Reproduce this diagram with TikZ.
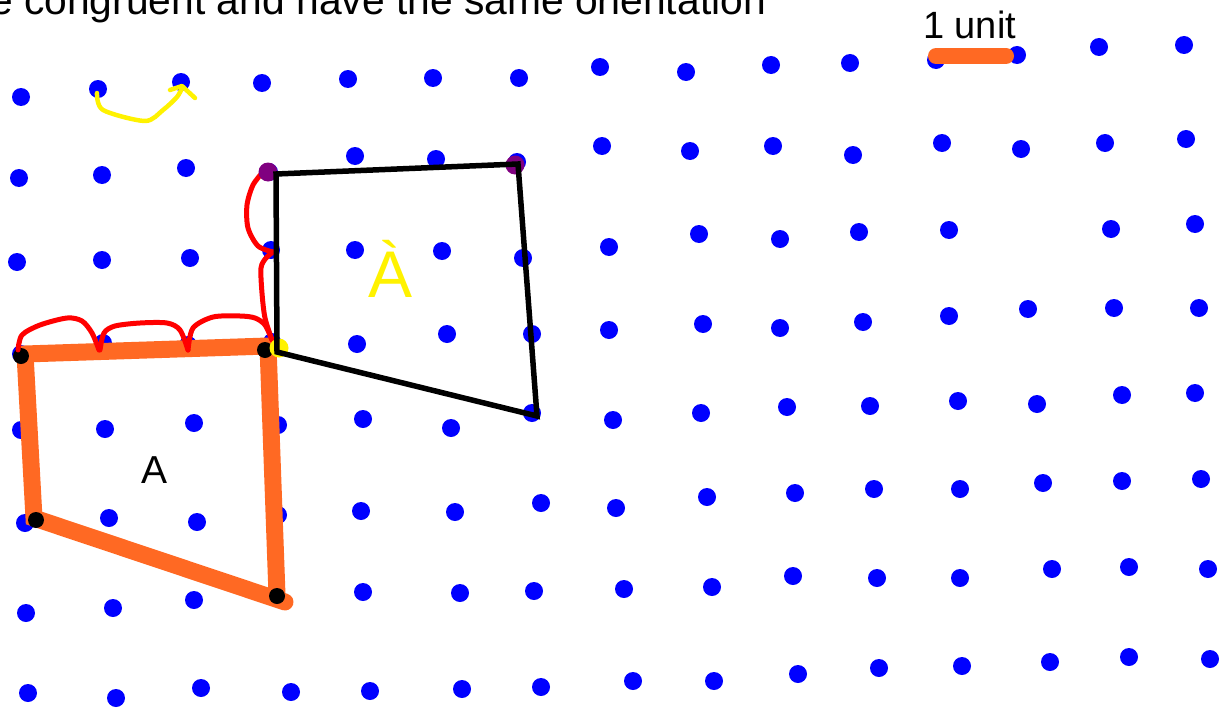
\documentclass[tikz,border=0pt]{standalone}
\usepackage{fontspec}
\setmainfont{Liberation Sans}
\definecolor{dotblue}{RGB}{0,0,255}
\definecolor{markorange}{RGB}{255,105,35}
\definecolor{markpurple}{RGB}{128,0,128}
\tikzset{
griddot/.style={fill=dotblue},
side A/.style={draw=markorange,line width=17pt,line join=miter,line cap=round},
side B/.style={draw=black,line width=5.5pt,line join=miter,line cap=round},
count arc/.style={draw=red,line width=5pt,line cap=round,line join=round},
pen/.style={draw=yellow,line width=4.5pt,line cap=round,line join=round},
corner/.style={fill=black},
}
\begin{document}
\begin{tikzpicture}[x=1pt,y=-1pt]
\useasboundingbox (0,0) rectangle (1222,709);
% dot paper, row by row
\foreach \x/\y in {21/97,98/89,181/82,262/83,348/79,433/78,519/78,600/67,686/72,771/65,850/63,936/60,1017/55,1099/47,1184/45,
19/178,102/175,186/168,269/172,355/156,436/159,517/162,602/146,690/151,773/146,853/155,942/143,1021/149,1105/143,1186/139,
17/262,102/260,190/258,271/250,355/250,442/251,523/258,609/247,699/234,780/239,859/232,949/230,1111/229,1195/224,
21/354,103/343,188/345,272/342,357/344,447/334,532/334,609/330,703/324,780/328,863/322,949/316,1028/309,1114/308,1199/308,
21/430,105/429,194/423,278/425,363/419,451/428,532/413,613/420,701/413,787/407,870/406,958/401,1037/404,1122/395,1195/393,
25/523,109/518,197/522,278/515,361/511,455/512,541/503,616/508,707/497,795/493,874/489,960/489,1043/483,1122/481,1201/479,
26/613,113/608,194/600,277/597,363/592,460/593,534/591,624/589,712/587,793/576,877/578,960/578,1052/569,1129/567,1208/569,
28/693,116/698,201/688,291/692,370/691,462/689,541/687,633/681,714/681,798/674,879/668,962/666,1050/662,1129/657,1210/659}
\fill[griddot] (\x,\y) circle[radius=9pt];

% heading, cut off at the top
\node[anchor=base west,inner sep=0pt,font=\fontsize{40.8}{48}\selectfont] (heading) at (-10,15) {e congruent and have the same orientation};

% scale bar
\coordinate (u-1) at (936,56);
\coordinate (u-2) at (1006,56);
\draw[draw=markorange,line width=16pt,line cap=round] (u-1) -- (u-2);
\node[anchor=base west,inner sep=0pt,font=\fontsize{38}{44}\selectfont] (unit) at (923,38) {1 unit};

% yellow arrow
\draw[pen] plot[smooth] coordinates {(97,93) (103,110) (145,121) (163,110) (177,97) (182,88)};
\draw[pen] (170,90) -- (182,86) -- (195,98);

% figure A
\coordinate (a-1) at (25,354);
\coordinate (a-2) at (268,346);
\coordinate (a-3) at (277,595);
\coordinate (a-4) at (34,518);
\coordinate (a-5) at (285,602);
\draw[side A] (a-5) -- (a-4) -- (a-1) -- (a-2) -- (a-3);
\foreach \x/\y in {21/356,265/350,277/596,36/520}
\fill[corner] (\x,\y) circle[radius=8pt];
\node[anchor=base,inner sep=0pt,font=\fontsize{39}{46}\selectfont] (label A) at (155,483) {A};

% counting the units
\begin{scope}[count arc]
\draw plot[smooth] coordinates {(18,350) (22,335) (40,325) (67,318) (82,321) (92,333) (99,350)};
\draw plot[smooth] coordinates {(100,350) (104,333) (115,326) (140,323) (167,323) (180,330) (188,350)};
\draw plot[smooth] coordinates {(188,350) (193,328) (213,317) (240,316) (255,318) (265,325) (272,340)};
\draw plot[smooth] coordinates {(272,340) (265,318) (262,293) (261,268) (266,258) (273,252)};
\draw plot[smooth] coordinates {(273,252) (258,246) (248,228) (247,205) (253,185) (263,172)};
\end{scope}
\fill[yellow] (279,348) circle[radius=9.5pt];

% figure A'
\coordinate (b-1) at (276,174);
\coordinate (b-2) at (518,164);
\coordinate (b-3) at (537,416);
\coordinate (b-4) at (277,352);
\foreach \x/\y in {268/172,515/165}
\fill[markpurple] (\x,\y) circle[radius=9.5pt];
\draw[side B] (b-4) -- (b-1) -- (b-2) -- (b-3) -- cycle;
\node[anchor=base,inner sep=0pt,text=yellow,font=\fontsize{66}{70}\selectfont] (label B) at (391,297) {\`A};
\end{tikzpicture}
\end{document}
